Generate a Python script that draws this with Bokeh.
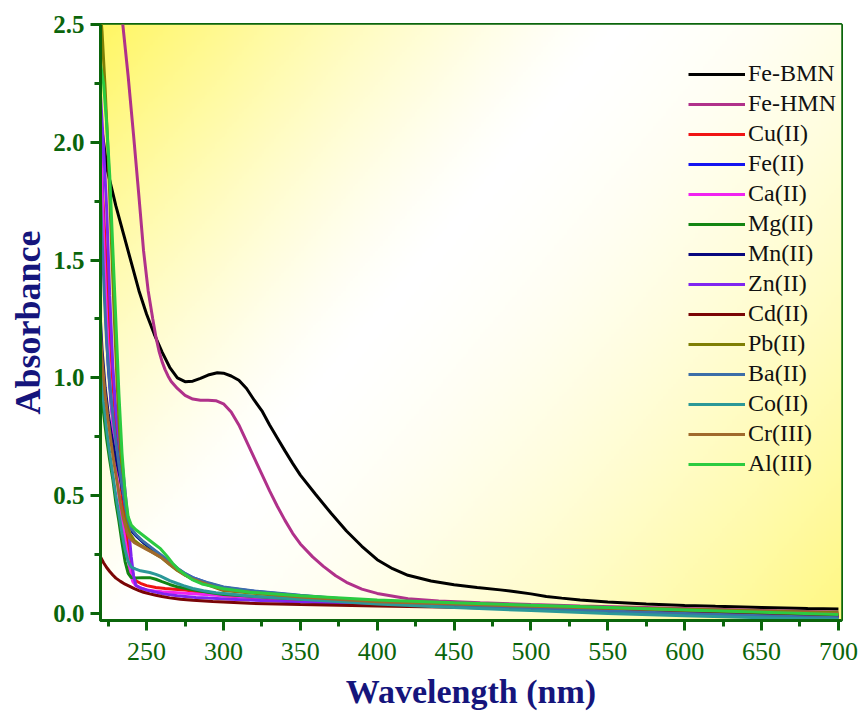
import numpy as np
from bokeh.plotting import figure
from bokeh.models import SingleIntervalTicker, Range1d, PrintfTickFormatter
from bokeh.embed import file_html
from bokeh.resources import INLINE

# ---------------- data ----------------
fe_bmn_wl = [220, 222, 224.5, 230, 235, 240, 245, 250, 255, 260, 265, 270, 275, 280, 285, 290, 296, 300, 305, 310,
             315, 320, 325, 330, 335, 340, 345, 350, 360, 370, 380, 390, 400, 410, 420, 435, 450, 465, 480, 490, 500,
             510, 520, 532, 550, 575, 600, 620, 650, 680, 700]
fe_bmn_abs = [2.10, 2.00, 1.88, 1.73, 1.61, 1.49, 1.37, 1.27, 1.185, 1.11, 1.045, 1.0, 0.984, 0.986, 0.998, 1.012, 1.022,
              1.02, 1.008, 0.99, 0.955, 0.905, 0.86, 0.80, 0.745, 0.69, 0.637, 0.587, 0.505, 0.425, 0.350, 0.285, 0.228,
              0.19, 0.162, 0.138, 0.122, 0.11, 0.10, 0.092, 0.083, 0.072, 0.065, 0.057, 0.049, 0.040, 0.034, 0.030,
              0.025, 0.021, 0.019]

fe_hmn_wl = [232.5, 234.5, 238, 241.5, 245, 248, 251, 254, 256, 258, 260, 262, 264, 266, 270, 275, 280, 285, 290, 295,
             300, 305, 310, 315, 320, 325, 330, 335, 340, 345, 350, 358, 365, 373, 380, 390, 400, 420, 440, 467, 500,
             532, 575, 620, 660, 700]
fe_hmn_abs = [2.62, 2.50, 2.28, 2.03, 1.77, 1.54, 1.37, 1.25, 1.175, 1.115, 1.07, 1.035, 1.007, 0.985, 0.955, 0.926,
              0.91, 0.905, 0.905, 0.903, 0.89, 0.855, 0.80, 0.73, 0.66, 0.59, 0.52, 0.455, 0.395, 0.34, 0.295, 0.24,
              0.20, 0.16, 0.132, 0.103, 0.085, 0.062, 0.053, 0.045, 0.038, 0.032, 0.025, 0.018, 0.011, 0.005]

cu_wl = [220, 222, 224, 226, 228, 230, 232, 234, 236, 238, 240, 241.5, 243, 246, 250, 256, 262, 268, 275, 285, 300,
         350, 400, 450, 500, 550, 600, 650, 700]
cu_abs = [1.95, 1.70, 1.45, 1.20, 0.98, 0.80, 0.64, 0.50, 0.38, 0.28, 0.20, 0.155, 0.138, 0.128, 0.118, 0.110, 0.106,
          0.103, 0.099, 0.09, 0.075, 0.055, 0.042, 0.032, 0.022, 0.013, 0.005, -0.003, -0.010]

fe2_wl = [220, 221, 222, 223.5, 225, 227, 229, 231, 233, 235, 237, 239, 241, 244, 248, 252, 256, 260, 265, 270, 275,
          280, 290, 300, 317, 350, 400, 450, 500, 550, 600, 650, 700]
fe2_abs = [2.15, 1.85, 1.55, 1.25, 1.05, 0.88, 0.77, 0.68, 0.59, 0.50, 0.43, 0.375, 0.345, 0.325, 0.302, 0.282, 0.262,
           0.242, 0.215, 0.19, 0.168, 0.152, 0.128, 0.11, 0.096, 0.075, 0.05, 0.035, 0.022, 0.012, 0.003, -0.006,
           -0.015]

ca_wl = [220, 221, 222.5, 224, 226, 228, 230, 232, 234, 236, 238, 239.5, 241, 243, 246, 250, 255, 260, 270, 280, 300,
         350, 400, 450, 500, 550, 600, 650, 700]
ca_abs = [2.05, 1.80, 1.50, 1.25, 1.00, 0.80, 0.63, 0.50, 0.40, 0.31, 0.23, 0.17, 0.135, 0.118, 0.108, 0.10, 0.095,
          0.092, 0.088, 0.084, 0.075, 0.06, 0.045, 0.032, 0.022, 0.013, 0.005, -0.003, -0.010]

mg_wl = [220, 222, 224, 226, 228, 230, 232, 234, 236, 238, 240, 243, 247, 252, 256, 260, 265, 270, 280, 290, 300, 350,
         400, 450, 500, 550, 600, 650, 700]
mg_abs = [1.00, 0.85, 0.74, 0.65, 0.57, 0.47, 0.39, 0.30, 0.22, 0.17, 0.152, 0.15, 0.152, 0.152, 0.145, 0.135, 0.123,
          0.113, 0.10, 0.09, 0.08, 0.06, 0.048, 0.038, 0.028, 0.018, 0.01, 0.003, -0.004]

mn_wl = [220, 221, 223, 225, 227, 229, 231, 233, 235, 237, 239, 241, 244, 248, 252, 256, 260, 265, 270, 275, 280, 290,
         300, 350, 400, 450, 500, 550, 600, 650, 700]
mn_abs = [1.24, 1.12, 0.96, 0.85, 0.76, 0.69, 0.63, 0.57, 0.50, 0.43, 0.375, 0.345, 0.325, 0.300, 0.280, 0.260, 0.240,
          0.212, 0.186, 0.165, 0.148, 0.124, 0.105, 0.07, 0.045, 0.03, 0.018, 0.008, 0.0, -0.008, -0.015]

zn_wl = [220, 222, 224, 226, 228, 230, 232, 234, 236, 238, 240, 241.5, 243, 246, 252, 261, 270, 282, 290, 304, 350,
         400, 450, 500, 550, 600, 650, 700]
zn_abs = [2.20, 1.98, 1.72, 1.35, 1.05, 0.86, 0.74, 0.64, 0.52, 0.38, 0.24, 0.16, 0.12, 0.108, 0.096, 0.083, 0.075,
          0.068, 0.065, 0.06, 0.048, 0.038, 0.028, 0.018, 0.01, 0.002, -0.006, -0.012]

cd_wl = [220, 222, 224, 226, 228, 230, 233, 236, 239, 242, 245, 248, 252, 256, 260, 265, 272, 280, 293, 317, 350, 400,
         450, 500, 550, 600, 650, 700]
cd_abs = [0.24, 0.215, 0.195, 0.178, 0.163, 0.150, 0.136, 0.124, 0.115, 0.105, 0.097, 0.09, 0.083, 0.077, 0.072, 0.066,
          0.06, 0.056, 0.051, 0.043, 0.038, 0.032, 0.026, 0.019, 0.012, 0.005, -0.002, -0.008]

pb_wl = [220, 221, 223, 225, 227, 229, 231, 233, 235, 237, 239, 242, 246, 250, 255, 260, 265, 270, 275, 280, 290, 300,
         350, 400, 450, 500, 550, 600, 650, 700]
pb_abs = [2.55, 2.47, 2.23, 1.95, 1.60, 1.25, 0.95, 0.70, 0.52, 0.40, 0.34, 0.31, 0.29, 0.275, 0.255, 0.235, 0.207,
          0.182, 0.162, 0.145, 0.12, 0.097, 0.068, 0.05, 0.04, 0.032, 0.025, 0.018, 0.01, 0.003]

ba_wl = [220, 221, 222.5, 224, 226, 228, 230, 232, 234, 236, 238, 240, 243, 247, 251, 255, 260, 265, 270, 275, 280, 290,
         300, 320, 350, 400, 450, 500, 550, 600, 650, 700]
ba_abs = [1.78, 1.60, 1.35, 1.15, 0.98, 0.84, 0.73, 0.63, 0.54, 0.46, 0.40, 0.36, 0.335, 0.31, 0.29, 0.27, 0.245, 0.22,
          0.192, 0.17, 0.152, 0.13, 0.112, 0.095, 0.077, 0.05, 0.035, 0.022, 0.01, 0.0, -0.01, -0.018]

co_wl = [220, 222, 224, 226, 228, 230, 232, 234, 236, 238, 240, 243, 246, 252, 256, 259, 262, 265, 270, 274, 280, 287,
         295, 304, 320, 350, 400, 450, 500, 550, 600, 650, 700]
co_abs = [1.10, 0.90, 0.78, 0.68, 0.59, 0.50, 0.42, 0.34, 0.27, 0.22, 0.197, 0.188, 0.181, 0.174, 0.166, 0.158, 0.149,
          0.139, 0.127, 0.118, 0.106, 0.096, 0.088, 0.082, 0.072, 0.06, 0.04, 0.025, 0.012, 0.0, -0.01, -0.018, -0.025]

cr_wl = [220, 221, 223, 225, 227, 229, 231, 233, 235, 237, 239, 242, 245, 250, 255, 260, 265, 270, 275, 280, 290, 300,
         350, 400, 450, 500, 550, 600, 650, 700]
cr_abs = [1.19, 1.08, 0.93, 0.82, 0.72, 0.63, 0.55, 0.47, 0.40, 0.35, 0.32, 0.30, 0.29, 0.272, 0.255, 0.235, 0.21,
          0.185, 0.163, 0.145, 0.122, 0.10, 0.07, 0.05, 0.04, 0.03, 0.022, 0.015, 0.008, 0.0]

al_wl = [220, 222, 224, 226, 228, 230, 232, 234, 236, 238, 240, 243, 247, 251, 255, 259, 263, 267, 271, 275, 280, 286,
         293, 300, 317, 350, 400, 450, 500, 550, 600, 650, 700]
al_abs = [2.33, 2.25, 2.08, 1.86, 1.55, 1.24, 0.93, 0.68, 0.51, 0.41, 0.375, 0.355, 0.335, 0.315, 0.295, 0.275, 0.245,
          0.212, 0.185, 0.165, 0.142, 0.125, 0.115, 0.105, 0.09, 0.075, 0.057, 0.045, 0.035, 0.025, 0.015, 0.005,
          -0.005]

series_names = ["Fe-BMN", "Fe-HMN", "Cu(II)", "Fe(II)", "Ca(II)", "Mg(II)", "Mn(II)", "Zn(II)", "Cd(II)", "Pb(II)",
                "Ba(II)", "Co(II)", "Cr(III)", "Al(III)"]
series_wl = [fe_bmn_wl, fe_hmn_wl, cu_wl, fe2_wl, ca_wl, mg_wl, mn_wl, zn_wl, cd_wl, pb_wl, ba_wl, co_wl, cr_wl, al_wl]
series_abs = [fe_bmn_abs, fe_hmn_abs, cu_abs, fe2_abs, ca_abs, mg_abs, mn_abs, zn_abs, cd_abs, pb_abs, ba_abs, co_abs,
              cr_abs, al_abs]
series_colors = ["#000000", "#B0318A", "#F01414", "#1414F0", "#F023F0", "#138513", "#07077E", "#7F25F0", "#7A0505",
                 "#7F7F05", "#3C6EA8", "#2B9898", "#A0692C", "#2BCB40"]

x_title = "Wavelength (nm)"
y_title = "Absorbance"

# ---------------- figure ----------------
X0, X1 = 220, 702
Y0, Y1 = -0.03, 2.5
GREEN = "#0B650B"
NAVY = "#15157C"

p = figure(width=864, height=721, x_range=Range1d(X0, X1), y_range=Range1d(Y0, Y1),
           output_backend="svg", toolbar_location=None,
           min_border_left=100, min_border_right=23, min_border_top=24, min_border_bottom=101,
           background_fill_color="white", border_fill_color="white")

# gradient background (strong yellow top-left, softer yellow bottom-right, white band between)
nx, ny = 300, 240
u = (np.arange(nx) + 0.5) / nx
vt = 1.0 - (np.arange(ny) + 0.5) / ny   # distance from top (row 0 = bottom)
U, VT = np.meshgrid(u, vt)
d = 0.6 * U + 0.4 * VT
c = 0.42
k = np.where(d < c, ((c - d) / c) ** 1.3, 0.8 * ((d - c) / (1 - c)) ** 1.5)
k = np.clip(k, 0, 1)
img = np.empty((ny, nx), dtype=np.uint32)
view = img.view(dtype=np.uint8).reshape((ny, nx, 4))
view[..., 0] = 255
view[..., 1] = np.round(255 - k * (255 - 246)).astype(np.uint8)
view[..., 2] = np.round(255 - k * (255 - 98)).astype(np.uint8)
view[..., 3] = 255
p.image_rgba(image=[img], x=X0, y=Y0, dw=X1 - X0, dh=Y1 - Y0)

for name, wl, ab, col in zip(series_names, series_wl, series_abs, series_colors):
    p.line(wl, ab, line_color=col, line_width=3, legend_label=name)

p.xgrid.visible = False
p.ygrid.visible = False

p.xaxis.ticker = SingleIntervalTicker(interval=50, num_minor_ticks=2)
p.yaxis.ticker = SingleIntervalTicker(interval=0.5, num_minor_ticks=2)
p.yaxis.formatter = PrintfTickFormatter(format="%.1f")

for ax in (p.xaxis[0], p.yaxis[0]):
    ax.axis_line_color = GREEN
    ax.axis_line_width = 3
    ax.major_tick_line_color = GREEN
    ax.major_tick_line_width = 3
    ax.minor_tick_line_color = GREEN
    ax.minor_tick_line_width = 3
    ax.major_tick_in = 0
    ax.major_tick_out = 10
    ax.minor_tick_in = 0
    ax.minor_tick_out = 6
    ax.major_label_text_color = GREEN
    ax.major_label_text_font = "Liberation Serif"
    ax.axis_label_text_color = NAVY
    ax.axis_label_text_font = "Liberation Serif"
    ax.axis_label_text_font_style = "bold"

p.xaxis.axis_label = x_title
p.yaxis.axis_label = y_title
p.xaxis.major_label_text_font_size = "26px"
p.xaxis.major_label_standoff = 12
p.xaxis.axis_label_text_font_size = "34px"
p.xaxis.axis_label_standoff = 10
p.yaxis.major_label_text_font_size = "25px"
p.yaxis.major_label_text_font_style = "bold"
p.yaxis.major_label_standoff = 6
p.yaxis.axis_label_text_font_size = "36px"
p.yaxis.axis_label_standoff = 2

p.outline_line_color = GREEN
p.outline_line_width = 3
p.outline_line_alpha = 1.0

lg = p.legend[0]
lg.location = (588, 143)
lg.background_fill_alpha = 0
lg.border_line_alpha = 0
lg.label_text_font = "Liberation Serif"
lg.label_text_font_size = "24px"
lg.label_text_color = "#111111"
lg.glyph_width = 57
lg.glyph_height = 24
lg.label_height = 24
lg.spacing = 3
lg.padding = 0
lg.margin = 0
lg.label_standoff = 3

open("out.html", "w").write(file_html(p, INLINE))
